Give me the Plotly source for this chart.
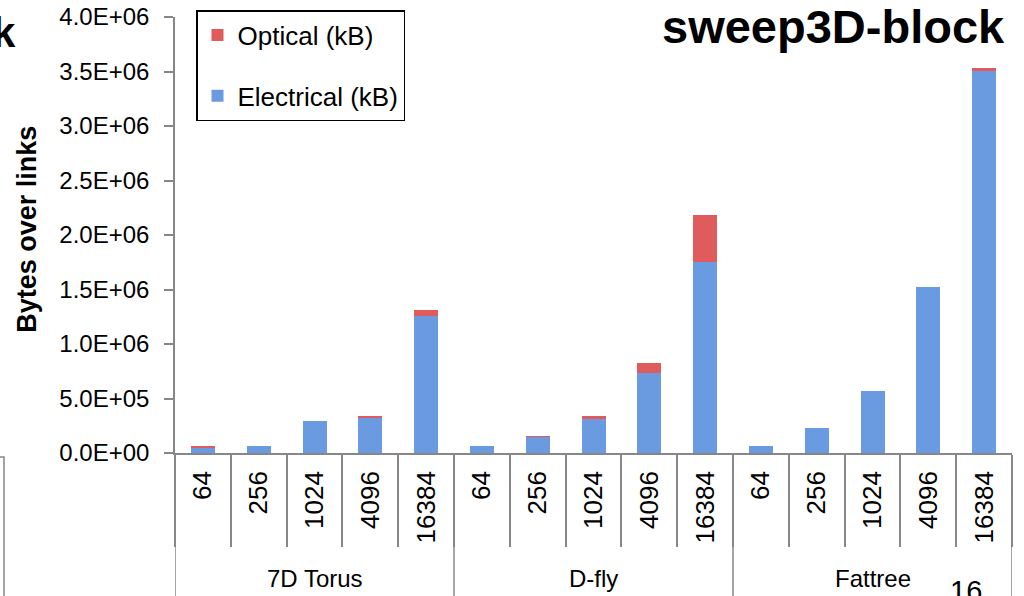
import plotly.graph_objects as go

groups = ["7D Torus", "D-fly", "Fattree"]
sizes = ["64", "256", "1024", "4096", "16384"]

electrical = {
    "7D Torus": [50000, 64000, 294000, 324000, 1257000],
    "D-fly":    [64000, 147000, 315000, 737000, 1750000],
    "Fattree":  [67000, 229000, 569000, 1523000, 3507000],
}
optical = {
    "7D Torus": [14000, 0, 0, 18000, 55000],
    "D-fly":    [0, 9000, 25000, 89000, 433000],
    "Fattree":  [0, 0, 0, 0, 25000],
}
y_ticks = [0, 500000, 1000000, 1500000, 2000000, 2500000, 3000000, 3500000, 4000000]

FONT = "Liberation Sans, Arial, sans-serif"
AXIS_GRAY = "#878787"

n = len(sizes)
xs, xt, ev, ov = [], [], [], []
for gi, g in enumerate(groups):
    for si, s in enumerate(sizes):
        xs.append(gi * n + si)
        xt.append(s)
        ev.append(electrical[g][si])
        ov.append(optical[g][si])

fig = go.Figure()
fig.add_trace(go.Bar(x=xs, y=ev, name="Electrical (kB)", legendrank=2, legendgroup="e",
                     marker=dict(color="#6a9be0", line=dict(width=0))))
fig.add_trace(go.Bar(x=xs, y=ov, name="Optical (kB)", legendrank=1, legendgroup="o",
                     marker=dict(color="#e05c5c", line=dict(width=0))))

total = len(xs)
boundaries = [i - 0.5 for i in range(total + 1)]
group_bounds = [gi * n - 0.5 for gi in range(len(groups) + 1)]

shapes = []
for b in group_bounds:
    shapes.append(dict(type="line", xref="x", yref="paper", x0=b, x1=b, y0=0, y1=-0.34,
                       line=dict(color=AXIS_GRAY, width=1.5)))
# leftover slide frame at far left
shapes.append(dict(type="path", xref="paper", yref="paper",
                   path="M -0.215 -0.009 L -0.2043 -0.009 L -0.2043 -0.34",
                   line=dict(color=AXIS_GRAY, width=1.5)))

annotations = []
for gi, g in enumerate(groups):
    annotations.append(dict(text=g, x=gi * n + (n - 1) / 2, xref="x", y=-0.287, yref="paper",
                            showarrow=False, font=dict(size=24, color="black", family=FONT),
                            xanchor="center", yanchor="middle"))
annotations.append(dict(text="<b>Bytes over links</b>", textangle=-90, x=-0.177, y=0.514,
                        xref="paper", yref="paper", showarrow=False,
                        font=dict(size=27, color="black", family=FONT),
                        xanchor="center", yanchor="middle"))
annotations.append(dict(text="<b>sweep3D-block</b>", x=0.994, y=0.978, xref="paper", yref="paper",
                        showarrow=False, font=dict(size=47, color="black", family=FONT),
                        xanchor="right", yanchor="middle"))
annotations.append(dict(text="<b>k</b>", x=-0.188, y=0.965, xref="paper", yref="paper",
                        showarrow=False, font=dict(size=42, color="black", family=FONT),
                        xanchor="right", yanchor="middle"))
annotations.append(dict(text="16", x=0.9235, y=-0.275, xref="paper", yref="paper",
                        showarrow=False, font=dict(size=29, color="black", family=FONT),
                        xanchor="left", yanchor="top"))

fig.update_layout(
    template="none",
    width=1024, height=596,
    margin=dict(l=175, r=12, t=17, b=143, autoexpand=False),
    paper_bgcolor="white", plot_bgcolor="white",
    barmode="stack", bargap=0.57,
    font=dict(family=FONT, color="black"),
    showlegend=True,
    legend=dict(x=196 / 1024, y=1 - 10 / 596, xref="container", yref="container",
                xanchor="left", yanchor="top",
                bordercolor="black", borderwidth=1.5, bgcolor="white",
                font=dict(size=26, color="black", family=FONT),
                traceorder="grouped", tracegroupgap=24, itemwidth=30),
    shapes=shapes,
    annotations=annotations,
)
fig.update_xaxes(
    automargin=False,
    range=[-0.5, total - 0.5], tickmode="array", tickvals=xs, ticktext=xt,
    tickangle=-90, ticks="", ticklabelstandoff=6,
    tickfont=dict(size=26, color="black", family=FONT),
    showline=True, linecolor=AXIS_GRAY, linewidth=1.5, showgrid=False, zeroline=False,
    minor=dict(tickmode="array", tickvals=boundaries, ticks="outside", ticklen=92,
               tickcolor=AXIS_GRAY, tickwidth=1.5, showgrid=False),
)
fig.update_yaxes(
    automargin=False,
    range=[0, 4000000], tickmode="array", tickvals=y_ticks,
    ticktext=[f"{v:.1E}" for v in y_ticks],
    ticks="outside", ticklen=9, tickcolor=AXIS_GRAY, tickwidth=1.5, ticklabelstandoff=10,
    tickfont=dict(size=24, color="black", family=FONT),
    showline=True, linecolor=AXIS_GRAY, linewidth=1.5, showgrid=False, zeroline=False,
)

fig.write_html("out.html", config={"displayModeBar": False},
               post_script="document.body.style.margin='0';")
